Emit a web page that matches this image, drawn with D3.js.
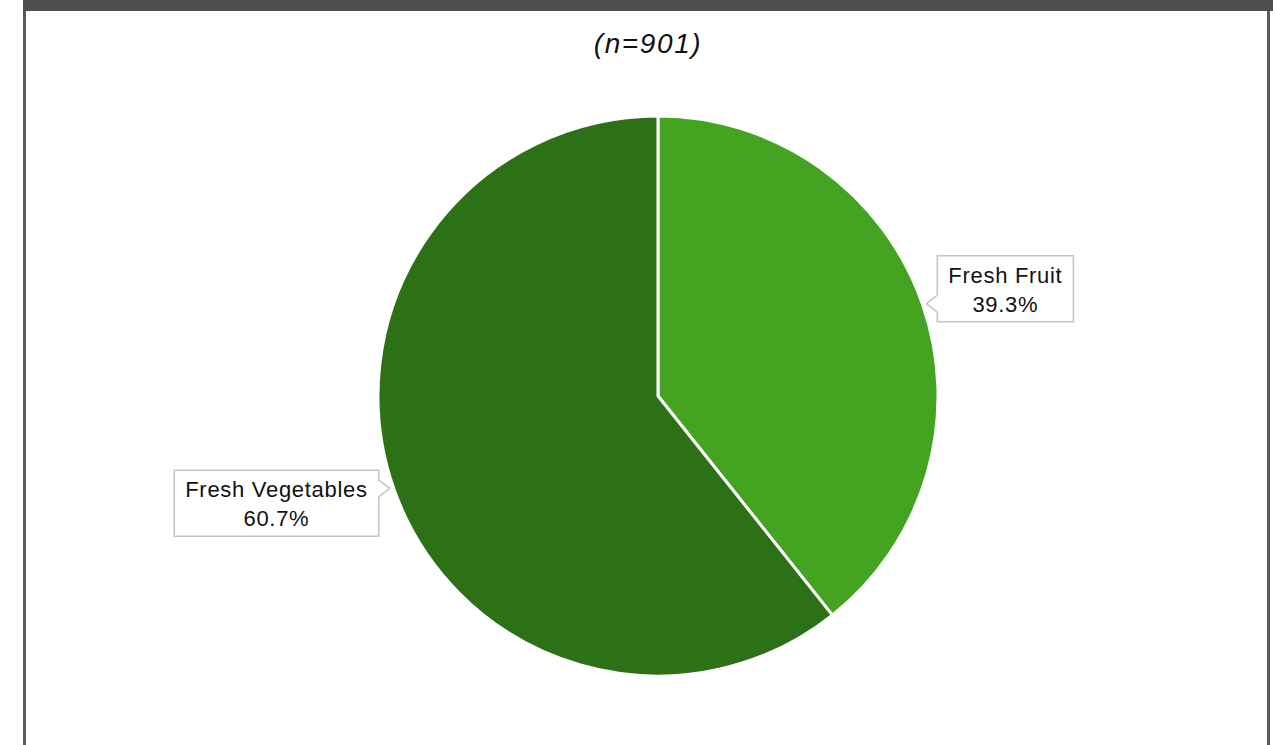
<!DOCTYPE html>
<html>
<head>
<meta charset="utf-8">
<script src="https://cdn.jsdelivr.net/npm/d3@7"></script>
<style>
  html, body { margin: 0; padding: 0; background: #fff; }
  svg { display: block; }
  text { font-family: "Liberation Sans", Arial, Helvetica, sans-serif; }
</style>
</head>
<body>
<svg id="chart" width="1273" height="745"></svg>
<script>
// Share of fresh produce purchases
const categories = ["Fresh Fruit", "Fresh Vegetables"];
const shares = [39.3, 60.7];
const sampleLabel = "(n=901)";
const sliceColors = ["#46a923", "#2e7417"];

const W = 1273, H = 745;
const svg = d3.select("#chart");

// frame: dark top bar and grey side rules
svg.append("rect").attr("x", 23).attr("y", 0).attr("width", W - 23).attr("height", 11).attr("fill", "#4f4f4f");
svg.append("rect").attr("x", 23).attr("y", 11).attr("width", 3).attr("height", H - 11).attr("fill", "#5c5c5c");
svg.append("rect").attr("x", 1267).attr("y", 11).attr("width", 3).attr("height", H - 11).attr("fill", "#5c5c5c");

// subtitle
svg.append("text")
  .attr("x", 648).attr("y", 53)
  .attr("text-anchor", "middle")
  .attr("font-size", 28)
  .attr("font-style", "italic")
  .attr("letter-spacing", 1.6)
  .attr("fill", "#111")
  .text(sampleLabel);

const cx = 658, cy = 396, R = 280;
const data = categories.map((c, i) => ({ name: c, value: shares[i], color: sliceColors[i] }));

const pie = d3.pie().sort(null).value(d => d.value);
const arc = d3.arc().innerRadius(0).outerRadius(R);
const arcs = pie(data);

// soft radial shading on each slice
const defs = svg.append("defs");
data.forEach((d, i) => {
  const g = defs.append("radialGradient")
    .attr("id", "shade" + i)
    .attr("gradientUnits", "userSpaceOnUse")
    .attr("cx", cx).attr("cy", cy).attr("r", R);
  const base = d3.color(d.color);
  g.append("stop").attr("offset", "0%").attr("stop-color", base.brighter(0.08));
  g.append("stop").attr("offset", "100%").attr("stop-color", base.darker(0.08));
});

const gPie = svg.append("g").attr("transform", `translate(${cx},${cy})`);
gPie.selectAll("path.slice")
  .data(arcs)
  .join("path")
  .attr("class", "slice")
  .attr("d", arc)
  .attr("fill", (d, i) => `url(#shade${i})`)
  .attr("stroke", "#fff")
  .attr("stroke-width", 3)
  .attr("stroke-linejoin", "round");

// callout boxes anchored at each slice's outer mid-arc
const labelFont = 22;
const gap = 15, notchHalf = 8.5, padX = 11, boxH = 66;
// vertical position of the notch inside each box (from top)
const notchY = [48, 18];

arcs.forEach((a, i) => {
  const mid = (a.startAngle + a.endAngle) / 2;
  const tx = cx + R * Math.sin(mid);
  const ty = cy - R * Math.cos(mid);
  const right = Math.sin(mid) > 0;

  const g = svg.append("g");
  const t1 = g.append("text")
    .attr("font-size", labelFont).attr("letter-spacing", 0.7)
    .attr("text-anchor", "middle").attr("fill", "#111")
    .text(a.data.name);
  const t2 = g.append("text")
    .attr("font-size", labelFont).attr("letter-spacing", 0.7)
    .attr("text-anchor", "middle").attr("fill", "#111")
    .text(d3.format(".1f")(a.data.value) + "%");

  const tw = Math.max(t1.node().getComputedTextLength(), t2.node().getComputedTextLength());
  const bw = tw + padX * 2;
  const top = ty - notchY[i];
  const left = right ? tx + gap : tx - gap - bw;
  const rgt = left + bw, bot = top + boxH;
  const ny = ty;

  let p;
  if (right) {
    p = `M${left},${top}H${rgt}V${bot}H${left}V${ny + notchHalf}L${tx + 4},${ny}L${left},${ny - notchHalf}Z`;
  } else {
    p = `M${left},${top}H${rgt}V${ny - notchHalf}L${tx - 4},${ny}L${rgt},${ny + notchHalf}V${bot}H${left}Z`;
  }
  g.insert("path", "text")
    .attr("d", p)
    .attr("fill", "#fff")
    .attr("stroke", "#c4c4c4")
    .attr("stroke-width", 1.5);

  const mx = left + bw / 2;
  t1.attr("x", mx).attr("y", top + 27);
  t2.attr("x", mx).attr("y", top + 56);
});
</script>
</body>
</html>
